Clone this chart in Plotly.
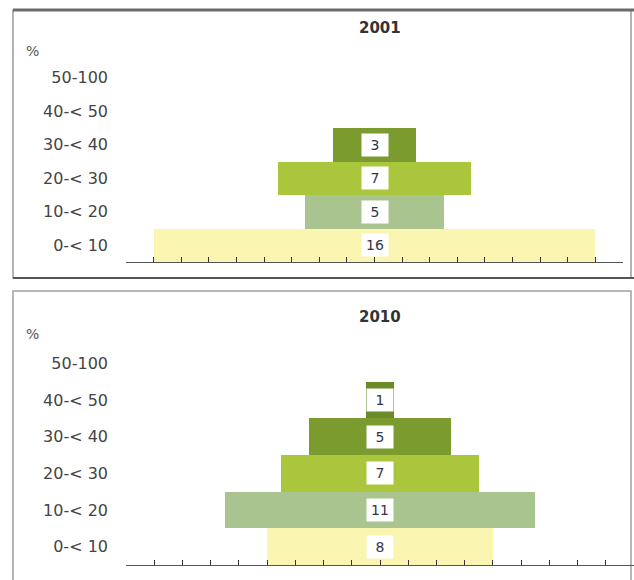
import plotly.graph_objects as go
from plotly.subplots import make_subplots

# ---- data ----
categories = ["0-< 10", "10-< 20", "20-< 30", "30-< 40", "40-< 50", "50-100"]
values_2001 = [16, 5, 7, 3, 0, 0]
values_2010 = [8, 11, 7, 5, 1, 0]
panel_titles = ["2001", "2010"]
bar_colors = ["#FAF5B0", "#A9C48E", "#A9C63C", "#7C9B2E", "#6B8A28", "#55701F"]

W, H = 634, 580
FONT = "DejaVu Sans"

fig = make_subplots(rows=2, cols=1)

def px_x(x):
    return x / W

def px_y(y):
    return 1 - y / H

panels = [
    dict(vals=values_2001, row=1, xdom=[126, 623], ydom=[61, 262], title_y=28, pct_y=51),
    dict(vals=values_2010, row=2, xdom=[126, 634], ydom=[345, 565], title_y=317, pct_y=334),
]

for i, p in enumerate(panels):
    vals = p["vals"]
    fig.add_trace(
        go.Bar(
            y=categories,
            x=vals,
            base=[-v / 2 for v in vals],
            orientation="h",
            marker=dict(color=bar_colors, line=dict(width=0)),
            hoverinfo="skip",
            showlegend=False,
        ),
        row=p["row"], col=1,
    )
    xname = "x" if i == 0 else "x2"
    yname = "y" if i == 0 else "y2"
    for c, v in zip(categories, vals):
        if v > 0:
            fig.add_annotation(
                x=0, y=c, xref=xname, yref=yname,
                text=str(v), showarrow=False,
                bgcolor="white", width=22, height=18, borderpad=2,
                font=dict(family=FONT, size=14, color="#33334A"),
            )
    axis_suffix = "" if i == 0 else "2"
    fig.update_layout(**{
        "xaxis" + axis_suffix: dict(
            domain=[px_x(p["xdom"][0]), px_x(p["xdom"][1])],
            range=[-9, 9], dtick=1, tick0=0,
            ticks="inside", ticklen=5, tickwidth=1, tickcolor="#333",
            showticklabels=False, showgrid=False, zeroline=False,
            showline=True, linecolor="#555", linewidth=1,
            fixedrange=True,
        ),
        "yaxis" + axis_suffix: dict(
            domain=[px_y(p["ydom"][1]), px_y(p["ydom"][0])],
            type="category", categoryorder="array", categoryarray=categories,
            range=[-0.5, 5.5],
            showgrid=False, zeroline=False, showline=False, ticks="",
            ticklabelstandoff=17,
            tickfont=dict(family=FONT, size=16, color="#444"),
            fixedrange=True,
        ),
    })
    fig.add_annotation(
        x=px_x(380), y=px_y(p["title_y"]), xref="paper", yref="paper",
        text="<b>" + panel_titles[i] + "</b>", showarrow=False,
        font=dict(family=FONT, size=15, color="#333"),
        xanchor="center", yanchor="middle",
    )
    fig.add_annotation(
        x=px_x(24), y=px_y(p["pct_y"]), xref="paper", yref="paper",
        text="%", showarrow=False,
        font=dict(family=FONT, size=14, color="#555"),
        xanchor="left", yanchor="middle",
    )

# panel frames
shapes = [
    dict(type="rect", xref="paper", yref="paper",
         x0=px_x(13), x1=px_x(631), y0=px_y(278), y1=px_y(10),
         line=dict(color="#9A9A9A", width=1.5), fillcolor="rgba(0,0,0,0)", layer="below"),
    dict(type="line", xref="paper", yref="paper",
         x0=px_x(13), x1=px_x(634), y0=px_y(10), y1=px_y(10),
         line=dict(color="#6A6A6A", width=3)),
    dict(type="line", xref="paper", yref="paper",
         x0=px_x(13), x1=px_x(634), y0=px_y(278), y1=px_y(278),
         line=dict(color="#555", width=2)),
    dict(type="rect", xref="paper", yref="paper",
         x0=px_x(13), x1=px_x(631), y0=px_y(590), y1=px_y(291),
         line=dict(color="#A0A0A0", width=1.5), fillcolor="rgba(0,0,0,0)", layer="below"),
]

fig.update_layout(
    width=W, height=H,
    margin=dict(l=0, r=0, t=0, b=0),
    paper_bgcolor="white", plot_bgcolor="white",
    bargap=0,
    shapes=shapes,
    showlegend=False,
)

fig.write_html(
    "out.html",
    config={"displayModeBar": False},
    post_script="document.body.style.margin='0';document.body.style.overflow='hidden';",
)
